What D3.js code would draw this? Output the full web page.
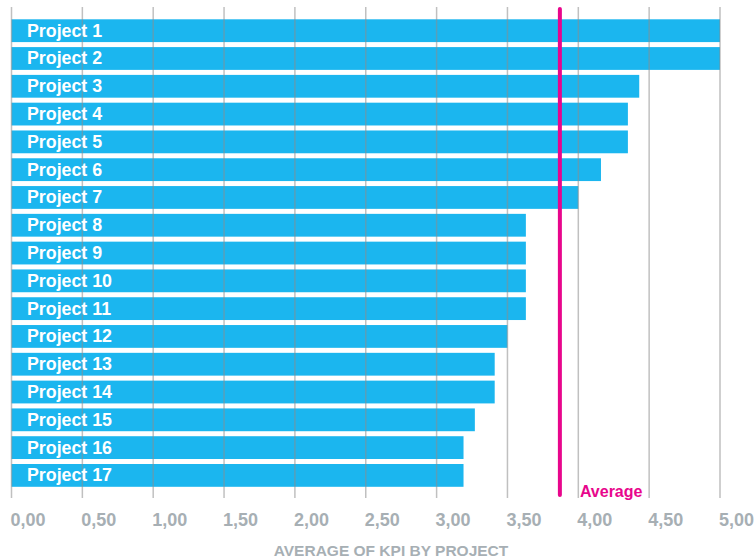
<!DOCTYPE html>
<html>
<head>
<meta charset="utf-8">
<script src="https://cdn.jsdelivr.net/npm/d3@7"></script>
<style>
  body { margin: 0; background: #fff; }
  svg text { font-family: "Liberation Sans", Arial, sans-serif; font-weight: bold; }
</style>
</head>
<body>
<div id="chart"></div>
<script>
const projects = ['Project 1', 'Project 2', 'Project 3', 'Project 4', 'Project 5', 'Project 6',
  'Project 7', 'Project 8', 'Project 9', 'Project 10', 'Project 11', 'Project 12',
  'Project 13', 'Project 14', 'Project 15', 'Project 16', 'Project 17'];
const kpi = [5.0, 5.0, 4.43, 4.35, 4.35, 4.16, 4.0, 3.63, 3.63, 3.63, 3.63, 3.5,
  3.41, 3.41, 3.27, 3.19, 3.19];
const average = 3.87;
const ticks = [0, 0.5, 1, 1.5, 2, 2.5, 3, 3.5, 4, 4.5, 5];
const axisTitle = 'AVERAGE OF KPI BY PROJECT';

const width = 755;
const height = 557;

const svg = d3.select('#chart')
  .append('svg')
  .attr('width', width)
  .attr('height', height);

const x = d3.scaleLinear()
  .domain([0, 5])
  .range([11.5, 720]);

const y = d3.scaleBand()
  .domain(projects)
  .range([16.8, 489.3])
  .paddingInner(0.18)
  .paddingOuter(0.09);

const fmt = d => d3.format('.2f')(d).replace('.', ',');

// bars
svg.selectAll('rect.bar')
  .data(projects)
  .enter()
  .append('rect')
  .attr('class', 'bar')
  .attr('x', x(0))
  .attr('y', d => y(d))
  .attr('width', (d, i) => x(kpi[i]) - x(0))
  .attr('height', y.bandwidth())
  .attr('fill', '#1bb6ef');

// gridlines drawn over the bars
svg.selectAll('line.grid')
  .data(ticks)
  .enter()
  .append('line')
  .attr('class', 'grid')
  .attr('x1', d => x(d))
  .attr('x2', d => x(d))
  .attr('y1', 7)
  .attr('y2', 498)
  .attr('stroke', '#8c8c8c')
  .attr('stroke-opacity', 0.55)
  .attr('stroke-width', 1.5);

// bar labels
svg.selectAll('text.label')
  .data(projects)
  .enter()
  .append('text')
  .attr('class', 'label')
  .attr('x', 27)
  .attr('y', d => y(d) + y.bandwidth() / 2 + 6)
  .attr('fill', '#fff')
  .attr('font-size', 17.8)
  .text(d => d);

// tick labels
svg.selectAll('text.tick')
  .data(ticks)
  .enter()
  .append('text')
  .attr('class', 'tick')
  .attr('x', d => x(d) - 1)
  .attr('y', 526)
  .attr('fill', '#a7afb4')
  .attr('font-size', 18)
  .text(fmt);

// average line
svg.append('line')
  .attr('x1', x(average))
  .attr('x2', x(average))
  .attr('y1', 9)
  .attr('y2', 495)
  .attr('stroke', '#e8068c')
  .attr('stroke-width', 4)
  .attr('stroke-linecap', 'round');

svg.append('text')
  .attr('x', x(average) + 20)
  .attr('y', 497)
  .attr('fill', '#e8068c')
  .attr('font-size', 16)
  .text('Average');

// axis title
svg.append('text')
  .attr('x', 391)
  .attr('y', 555.5)
  .attr('text-anchor', 'middle')
  .attr('fill', '#a7afb4')
  .attr('font-size', 15.5)
  .text(axisTitle);
</script>
</body>
</html>
